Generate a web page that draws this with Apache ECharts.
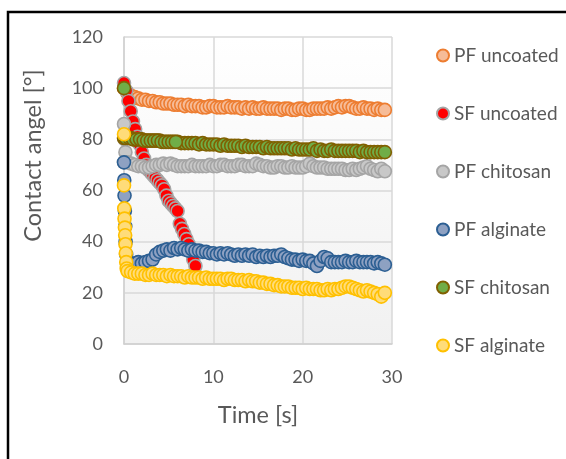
<!DOCTYPE html>
<html>
<head>
<meta charset="utf-8">
<script src="https://cdn.jsdelivr.net/npm/echarts@6/dist/echarts.min.js"></script>
<style>
  html, body { margin: 0; padding: 0; background: #ffffff; }
  #chart { width: 566px; height: 459px; }
</style>
</head>
<body>
<div id="chart"></div>
<script>
// Sample times (s) shared by the long recordings
const timeMain = [
  0, 0.4, 0.8, 1.2, 1.6, 2, 2.4, 2.8, 3.2, 3.6,
  4, 4.4, 4.8, 5.2, 5.6, 6, 6.4, 6.8, 7.2, 7.6,
  8, 8.4, 8.8, 9.2, 9.6, 10, 10.4, 10.8, 11.2, 11.6,
  12, 12.4, 12.8, 13.2, 13.6, 14, 14.4, 14.8, 15.2, 15.6,
  16, 16.4, 16.8, 17.2, 17.6, 18, 18.4, 18.8, 19.2, 19.6,
  20, 20.4, 20.8, 21.2, 21.6, 22, 22.4, 22.8, 23.2, 23.6,
  24, 24.4, 24.8, 25.2, 25.6, 26, 26.4, 26.8, 27.2, 27.6,
  28, 28.4, 28.8, 29.2
];

// Contact angle (°) per series at timeMain
const pfUncoated = [
  100, 98, 97, 96.5, 96, 95.5, 95.5, 95, 95, 94.5,
  94.5, 94, 94, 94, 93.5, 93.5, 93.5, 93, 93.5, 93,
  93, 93, 92.5, 92.5, 93, 93, 92.5, 92.5, 92.5, 93,
  92.5, 92.5, 92.5, 92, 92.5, 92, 92.5, 92, 92, 92.5,
  92, 92, 92, 92, 91.5, 92, 92, 91.5, 91.5, 92,
  92, 91.5, 91.5, 92, 92, 92, 92, 92.5, 92, 92.5,
  93, 92.5, 93, 93, 92.5, 92, 92, 92.5, 92, 92,
  91.5, 92, 91.5, 91.5
];
const pfChitosan = [
  71, 71, 70.5, 70, 69.5, 69.5, 69, 69, 69.5, 70,
  70, 70.5, 70, 70.5, 70, 69.5, 69.5, 69.5, 69.5, 70,
  69.5, 69.5, 69.5, 69.5, 70, 69.5, 69.5, 70, 70, 69.5,
  69.5, 69.5, 70, 70, 69.5, 69.5, 69.5, 70.5, 70, 69.5,
  69.5, 69, 69, 69.5, 69.5, 69, 69, 69.5, 69, 69,
  69, 69.5, 70.5, 69.5, 69, 69, 69, 68.5, 68.5, 68.5,
  68.5, 68.5, 68, 68, 68.5, 68, 68.5, 69, 69.5, 68.5,
  68, 67.5, 68.5, 67.5
];
const pfAlginate = [
  71, 31.5, 31, 31.5, 32, 31.5, 32, 32.5, 33, 35,
  36, 36.5, 37, 36.5, 37.5, 37, 37.5, 37, 36.5, 37,
  36.5, 36.5, 36, 36, 35.5, 35.5, 35, 35.5, 35, 35.5,
  35, 34.5, 35, 34.5, 35, 34.5, 35, 34, 34.5, 34,
  34.5, 34, 34.5, 34.5, 35, 34, 33.5, 33, 33, 32.5,
  33, 32.5, 32.5, 31.5, 30.5, 32.5, 34, 33.5, 32, 32,
  32, 32, 32.5, 32, 32, 32.5, 32, 32, 32, 32,
  31.5, 32, 31.5, 31
];
const sfChitosan = [
  80.5, 80.5, 80.5, 80, 80, 80, 79.5, 79.5, 79.5, 79.5,
  79.5, 79, 79, 79, 79, 79, 78.5, 78.5, 78.5, 78.5,
  78.5, 78, 78.5, 78, 78, 78, 78, 77.5, 78, 77.5,
  77.5, 77.5, 77.5, 77, 77.5, 77, 77, 77, 77, 76.5,
  77, 76.5, 76.5, 76.5, 76.5, 76.5, 76.5, 76, 76.5, 76,
  76, 76, 76, 76.5, 75.5, 76, 75.5, 75.5, 76, 75.5,
  75.5, 75.5, 75.5, 75.5, 75.5, 75.5, 75, 75.5, 75, 75,
  75, 75, 75, 75
];
const sfAlginate = [
  82, 28.5, 28, 27.5, 27.5, 27.5, 27, 27, 27.5, 27,
  27, 27, 26.5, 27, 26.5, 26.5, 26.5, 26, 26.5, 26,
  26, 26, 25.5, 26, 25.5, 25.5, 25.5, 25.5, 25, 25.5,
  25.5, 25, 25, 25, 24.5, 25, 24.5, 24.5, 24, 24,
  23.5, 23.5, 23, 23, 22.5, 22.5, 22.5, 22, 22, 22,
  21.5, 22, 21.5, 21.5, 21.5, 21, 21, 21.5, 21, 21.5,
  21.5, 22, 22.5, 22.5, 22, 21.5, 21, 20.5, 21, 20.5,
  20, 19.5, 18.5, 20
];

// Extra readings in the first seconds, where the camera sampled faster: [time, angle]
const sfChitosanEarly = [
  [0.2, 80.5], [0.6, 80.5], [1, 80], [1.4, 80], [1.8, 80], [2.2, 79.5], [2.6, 79.5],
  [3, 79.5], [3.4, 79.5], [3.8, 79.5], [4.2, 79], [4.6, 79], [5, 79], [5.4, 79], [5.8, 79]
];
const pfChitosanStart = [[0, 86], [0.08, 80], [0.16, 75]];
const pfAlginateStart = [[0.03, 64], [0.06, 58], [0.1, 52], [0.14, 46], [0.18, 40], [0.24, 35]];
const sfChitosanStart = [[0, 100]];
const sfAlginateStart = [[0, 62], [0.03, 53], [0.06, 49], [0.1, 45.5], [0.13, 42.5], [0.16, 39], [0.2, 35.5], [0.25, 32], [0.3, 29.5]];

// SF uncoated: droplet absorbed within ~8 s
const timeSfUncoated = [
  0, 0.25, 0.5, 0.75, 1, 1.25, 1.5, 1.75, 2, 2.25,
  2.5, 2.75, 3, 3.25, 3.5, 3.75, 4, 4.25, 4.5, 4.75,
  5, 5.25, 5.5, 5.75, 6, 6.25, 6.5, 6.75, 7, 7.25,
  7.5, 7.75, 8
];
const sfUncoated = [
  102, 99, 95, 91, 87, 84, 81, 78, 75, 72.5,
  70, 68, 67, 66, 65, 64, 63, 62, 60.5, 58,
  56, 55, 54, 53, 52, 47, 45, 43, 41, 39,
  36, 33, 30.5
];

const seriesNames = ['PF uncoated', 'SF uncoated', 'PF chitosan', 'PF alginate', 'SF chitosan', 'SF alginate'];
const yTicks = [0, 20, 40, 60, 80, 100, 120];
const xTicks = [0, 10, 20, 30];

function pairs(xs, ys) {
  return ys.map(function (v, i) { return [xs[i], v]; });
}

const styles = {
  'PF uncoated': { fill: '#f6bc98', stroke: '#ed7d31' },
  'SF uncoated': { fill: '#ff0000', stroke: '#a5a5a5' },
  'PF chitosan': { fill: '#c8c8c8', stroke: '#a5a5a5' },
  'PF alginate': { fill: '#8ea1c2', stroke: '#2c5f93' },
  'SF chitosan': { fill: '#70ad47', stroke: '#806000' },
  'SF alginate': { fill: '#ffdc79', stroke: '#ffc000' }
};

const pfAlgPairs = pairs(timeMain, pfAlginate);
const sfAlgPairs = pairs(timeMain, sfAlginate);

const seriesData = {
  'PF uncoated': pairs(timeMain, pfUncoated),
  'SF uncoated': pairs(timeSfUncoated, sfUncoated),
  'PF chitosan': pfChitosanStart.concat(pairs(timeMain, pfChitosan)),
  'PF alginate': pfAlgPairs.slice(0, 1).concat(pfAlginateStart, pfAlgPairs.slice(1)),
  'SF chitosan': pairs(timeMain, sfChitosan).concat(sfChitosanEarly, sfChitosanStart),
  'SF alginate': sfAlgPairs.slice(0, 1).concat(sfAlginateStart, sfAlgPairs.slice(1))
};

const FONT = 'Lato';
const TEXT = '#595959';

const chart = echarts.init(document.getElementById('chart'), null, { renderer: 'canvas' });

chart.setOption({
  animation: false,
  backgroundColor: '#ffffff',
  graphic: [{
    type: 'rect',
    shape: { x: 8, y: 12, width: 620, height: 520 },
    style: { fill: 'none', stroke: '#000000', lineWidth: 2.5 },
    silent: true,
    z: 100
  }],
  grid: {
    left: 124, right: 174, top: 37, bottom: 115,
    show: true,
    borderWidth: 0,
    backgroundColor: new echarts.graphic.LinearGradient(0, 0, 0, 1, [
      { offset: 0, color: '#ffffff' },
      { offset: 1, color: '#f1f1f1' }
    ])
  },
  legend: {
    orient: 'vertical',
    left: 431,
    top: 41,
    itemGap: 39,
    itemWidth: 12,
    itemHeight: 12,
    icon: 'circle',
    data: seriesNames,
    textStyle: { fontFamily: FONT, fontSize: 19, color: TEXT }
  },
  xAxis: {
    type: 'value',
    min: xTicks[0],
    max: xTicks[xTicks.length - 1],
    interval: 10,
    name: 'Time [s]',
    nameLocation: 'middle',
    nameGap: 59,
    nameTextStyle: { fontFamily: FONT, fontSize: 23.5, color: TEXT },
    axisLine: { show: true, lineStyle: { color: '#d0d0d0', width: 1.5 } },
    axisTick: { show: false },
    axisLabel: { fontFamily: FONT, fontSize: 18, color: TEXT, margin: 24 },
    splitLine: { show: true, lineStyle: { color: '#d9d9d9', width: 1.5 } }
  },
  yAxis: {
    type: 'value',
    min: yTicks[0],
    max: yTicks[yTicks.length - 1],
    interval: 20,
    name: 'Contact angel [°]',
    nameLocation: 'middle',
    nameGap: 79,
    nameTextStyle: { fontFamily: FONT, fontSize: 23.5, color: TEXT, padding: [0, 0, 0, 70] },
    axisLine: { show: true, lineStyle: { color: '#d0d0d0', width: 1.5 } },
    axisTick: { show: false },
    axisLabel: { fontFamily: FONT, fontSize: 18, color: TEXT, margin: 21 },
    splitLine: { show: true, lineStyle: { color: '#d9d9d9', width: 1.5 } }
  },
  series: seriesNames.map(function (name) {
    return {
      name: name,
      type: 'scatter',
      symbol: 'circle',
      symbolSize: 13,
      data: seriesData[name],
      itemStyle: {
        color: styles[name].fill,
        borderColor: styles[name].stroke,
        borderWidth: 1.6,
        opacity: 1
      },
      emphasis: { disabled: true }
    };
  })
});
</script>
</body>
</html>
